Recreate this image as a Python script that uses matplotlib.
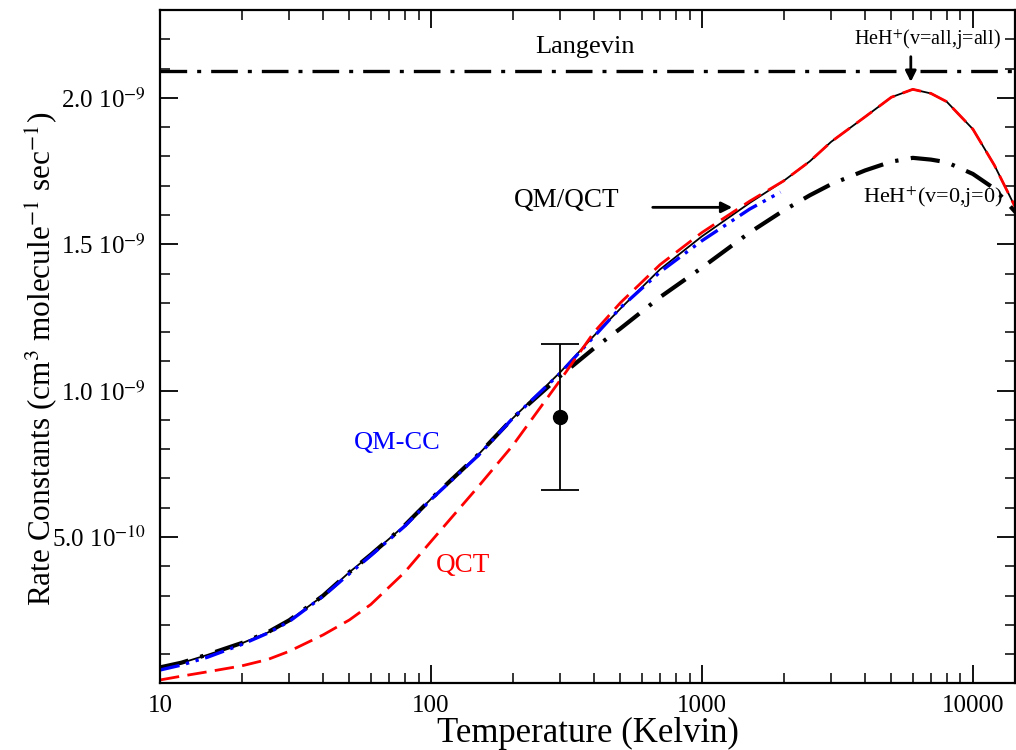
import matplotlib
matplotlib.use("Agg")
import matplotlib.pyplot as plt

plt.rcParams['font.family'] = ['Liberation Serif', 'DejaVu Serif']
plt.rcParams['mathtext.fontset'] = 'stix'

# temperatures (K) and rate constants (units of 1e-9 cm^3 molecule^-1 s^-1)
T = [10, 12, 15, 20, 25, 30, 40, 50, 60, 80, 100, 150, 200, 300, 400, 500, 700,
     1000, 1500, 2000, 2500, 3000, 4000, 5000, 6000, 7000, 8000, 10000, 12000, 15000]

qm_qct = [0.053, 0.070, 0.098, 0.137, 0.174, 0.215, 0.300, 0.380, 0.440, 0.540, 0.630,
          0.783, 0.905, 1.063, 1.188, 1.280, 1.414, 1.527, 1.641, 1.716, 1.783, 1.850,
          1.935, 2.002, 2.029, 2.015, 1.987, 1.893, 1.770, 1.590]

qct = [0.012, 0.025, 0.040, 0.060, 0.082, 0.110, 0.166, 0.217, 0.270, 0.380, 0.485,
       0.674, 0.812, 1.036, 1.200, 1.300, 1.430, 1.540, 1.647, 1.716, 1.783, 1.850,
       1.935, 2.002, 2.029, 2.015, 1.987, 1.893, 1.770, 1.590]

v0j0 = [0.055, 0.071, 0.099, 0.138, 0.175, 0.216, 0.300, 0.380, 0.440, 0.540, 0.630,
        0.783, 0.905, 1.050, 1.145, 1.212, 1.319, 1.420, 1.540, 1.615, 1.667, 1.705,
        1.752, 1.782, 1.795, 1.789, 1.780, 1.740, 1.690, 1.590]

T_cc = [10, 12, 15, 20, 25, 30, 40, 50, 60, 80, 100, 150, 200, 300, 400, 500, 700,
        1000, 1500, 1950]
qm_cc = [0.046, 0.063, 0.090, 0.133, 0.172, 0.212, 0.298, 0.375, 0.437, 0.537, 0.628,
         0.780, 0.905, 1.060, 1.185, 1.283, 1.405, 1.512, 1.620, 1.678]

langevin = 2.09
T_exp = [300]
k_exp = [0.91]
k_err = [0.25]

fig = plt.figure(figsize=(10.16, 7.5), dpi=100)
ax = fig.add_axes([0.1575, 0.0887, 0.8415, 0.898])

ax.axhline(langevin, color='k', lw=2.4, dashes=(8, 3, 1.2, 3))
ax.plot(T, v0j0, color='k', lw=3.0, dashes=(7, 3, 0.8, 3))
ax.plot(T, qm_qct, color='k', lw=1.3)
ax.plot(T_cc, qm_cc, color='#0000ff', lw=2.4, dashes=(6, 2, 1, 2, 1, 2))
ax.plot(T, qct, color='#ff0000', lw=2.0, dashes=(7, 3))
ax.errorbar(T_exp, k_exp, yerr=k_err, fmt='o', color='k', ms=10, lw=1.3,
            capsize=14, capthick=1.3)

ax.set_xscale('log')
ax.set_xlim(10, 14300)
ax.set_ylim(0, 2.3)

ax.set_xticks([10, 100, 1000, 10000])
ax.set_xticklabels(['10', '100', '1000', '10000'])
ax.set_yticks([0.5, 1.0, 1.5, 2.0])
ax.set_yticklabels([r'5.0 10$^{-10}$', r'1.0 10$^{-9}$', r'1.5 10$^{-9}$', r'2.0 10$^{-9}$'])
ax.set_yticks([0.1, 0.2, 0.3, 0.4, 0.6, 0.7, 0.8, 0.9, 1.1, 1.2, 1.3, 1.4,
               1.6, 1.7, 1.8, 1.9, 2.1, 2.2], minor=True)

ax.tick_params(which='both', direction='in', top=True, right=True)
ax.tick_params(which='major', length=13, width=1.3, labelsize=18, pad=8)
ax.tick_params(which='minor', length=7, width=1.1)
ax.tick_params(axis='y', which='major', labelsize=18, pad=10)
for s in ax.spines.values():
    s.set_linewidth(1.6)

ax.set_xlabel('Temperature (Kelvin)', fontsize=25, labelpad=0)
ax.set_ylabel(r'Rate Constants (cm$^{3}$ molecule$^{-1}$ sec$^{-1}$)', fontsize=22.5)
ax.yaxis.set_label_coords(-0.117, 0.482)

# labels and arrows
ax.text(370, 2.172, 'Langevin', fontsize=19, ha='center', va='center')
ax.text(6820, 2.197, r'HeH$^{+}$(v=all,j=all)', fontsize=14.5, ha='center', va='center')
ax.annotate('', xy=(5900, 2.045), xytext=(5900, 2.15),
            arrowprops=dict(arrowstyle='-|>', color='k', lw=2, mutation_scale=16))
ax.text(318, 1.65, 'QM/QCT', fontsize=19.5, ha='center', va='center')
ax.annotate('', xy=(1325, 1.626), xytext=(643, 1.626),
            arrowprops=dict(arrowstyle='-|>', color='k', lw=2, mutation_scale=16))
ax.text(7110, 1.66, r'HeH$^{+}$(v=0,j=0)', fontsize=16, ha='center', va='center')
ax.text(75, 0.82, 'QM-CC', fontsize=19, color='#0000ff', ha='center', va='center')
ax.text(131, 0.404, 'QCT', fontsize=19.5, color='#ff0000', ha='center', va='center')

fig.savefig('out.png', dpi=100)
